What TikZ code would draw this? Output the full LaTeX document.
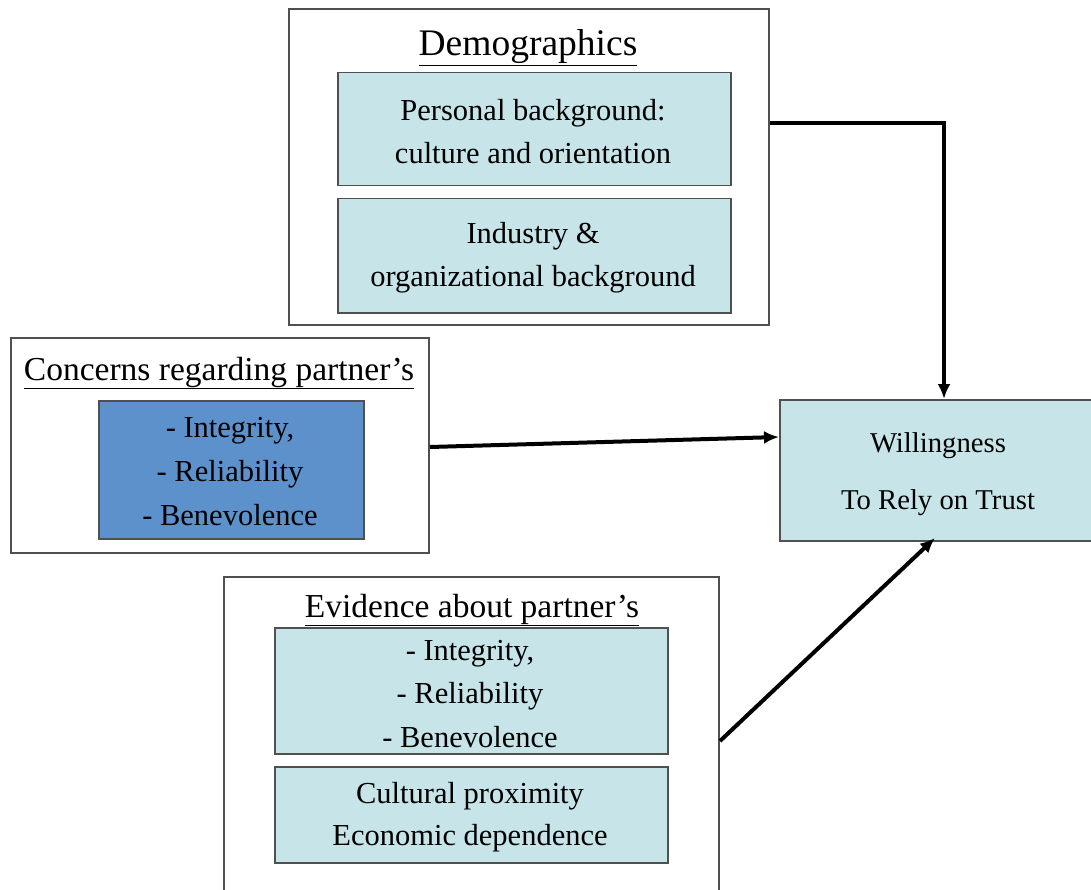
\documentclass[tikz,border=0pt]{standalone}
\usepackage{fontspec}
\setmainfont{Liberation Serif}
\usetikzlibrary{arrows.meta}
\definecolor{lightcyan}{RGB}{199,229,232}
\definecolor{darkblue}{RGB}{92,145,203}
\definecolor{bordergray}{RGB}{80,80,80}
\tikzset{
  outerbox/.style={draw=bordergray, line width=2pt, fill=white, rectangle, inner sep=0pt},
  innerbox/.style={draw=bordergray, line width=1.5pt, fill=lightcyan, rectangle, inner sep=0pt, align=center, font=\fontsize{30.5}{43}\selectfont},
  darkbox/.style={innerbox, fill=darkblue},
  boxtext/.style={inner sep=0pt, align=center},
  titletext/.style={inner sep=0pt, font=\fontsize{33.5}{40}\selectfont},
  conn/.style={line width=4pt, -{Latex[length=15pt,width=13pt]}},
}
\begin{document}
\begin{tikzpicture}[x=1pt,y=-1pt]
\clip (0,0) rectangle (1091,890);
\fill[white] (0,0) rectangle (1091,890);
% Demographics
\node[outerbox, minimum width=480pt, minimum height=316pt, anchor=north west] (demo) at (288,8) {};
\node[titletext, font=\fontsize{37.5}{44}\selectfont] (demoT) at (528,48) {\underline{Demographics}};
\node[innerbox, minimum width=393pt, minimum height=113pt, anchor=north west] (pers) at (337,72) {};
\node[boxtext, font=\fontsize{30.5}{43}\selectfont] (persT) at (533,132) {Personal background:\\culture and orientation};
\node[innerbox, minimum width=393pt, minimum height=114pt, anchor=north west] (ind) at (337,198) {};
\node[boxtext, font=\fontsize{30.5}{43}\selectfont] (indT) at (533,258) {Industry \&\\organizational background};
% Concerns
\node[outerbox, minimum width=418pt, minimum height=215pt, anchor=north west] (conc) at (10,337) {};
\node[titletext] (concT) at (219,373) {\underline{Concerns regarding partner’s}};
\node[darkbox, minimum width=265pt, minimum height=138pt, anchor=north west] (concI) at (98,400) {};
\node[boxtext, font=\fontsize{30.5}{44}\selectfont] (concIT) at (230,472) {- Integrity,\\- Reliability\\- Benevolence};
% Willingness
\node[innerbox, minimum width=320pt, minimum height=141pt, anchor=north west] (will) at (779,399) {};
\node[boxtext, font=\fontsize{28.7}{57}\selectfont] (willT) at (938,474) {Willingness\\To Rely on Trust};
% Evidence
\node[outerbox, minimum width=495pt, minimum height=340pt, anchor=north west] (evid) at (223,576) {};
\node[titletext] (evidT) at (472,610) {\underline{Evidence about partner’s}};
\node[innerbox, minimum width=393pt, minimum height=126pt, anchor=north west] (evI) at (274,627) {};
\node[boxtext, font=\fontsize{30.5}{43.5}\selectfont] (evIT) at (470,694) {- Integrity,\\- Reliability\\- Benevolence};
\node[innerbox, minimum width=393pt, minimum height=96pt, anchor=north west] (evC) at (274,766) {};
\node[boxtext, font=\fontsize{30.5}{42}\selectfont] (evCT) at (470,817) {Cultural proximity\\Economic dependence};
% connectors
\coordinate (corner) at (944,123);
\draw[conn] (demo.east |- corner) -- (corner) -- (corner |- will.north);
\draw[conn] (conc.east |- 0,447) -- (will.west |- 0,437);
\draw[conn] (evid.east |- 0,741) -- (935,538);
\end{tikzpicture}
\end{document}
